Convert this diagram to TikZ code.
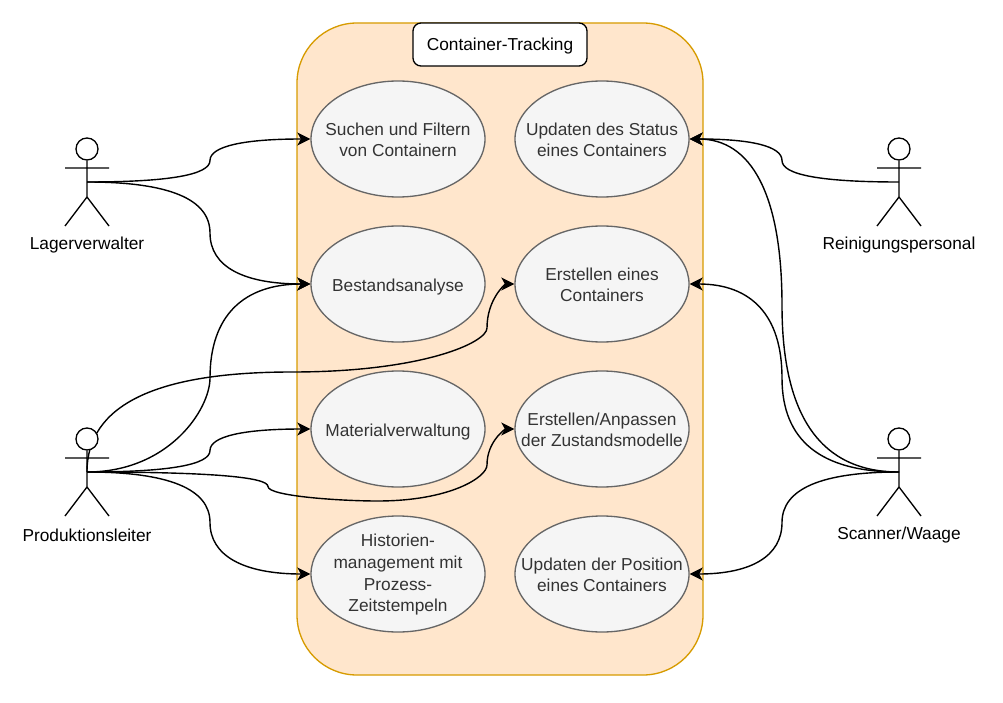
\documentclass[tikz,border=0pt]{standalone}
\usepackage{fontspec}
\setmainfont{Liberation Sans}
\usetikzlibrary{shapes.geometric,arrows.meta}
\definecolor{boxfill}{HTML}{FFE6CC}
\definecolor{boxline}{HTML}{D79B00}
\definecolor{ucfill}{HTML}{F5F5F5}
\definecolor{ucline}{HTML}{666666}
\definecolor{uctextcol}{HTML}{333333}
\tikzset{
  container/.style={draw=boxline,fill=boxfill,line width=1.33pt,rounded corners=60pt,inner sep=0pt},
  titlebox/.style={draw=black,fill=white,line width=1.33pt,rounded corners=8pt,minimum width=174pt,minimum height=43pt,inner sep=0pt,text height=13pt,text depth=0pt,font=\fontsize{17.3}{21.7}\selectfont},
  usecase/.style={ellipse,draw=ucline,fill=ucfill,line width=1.33pt,minimum width=174pt,minimum height=116pt,inner sep=0pt},
  uctext/.style={align=center,inner sep=0pt,text=uctextcol,font=\fontsize{17.3}{21.7}\selectfont},
  oneline/.style={inner sep=0pt,text=uctextcol,text height=13pt,text depth=0pt,font=\fontsize{17.3}{21.7}\selectfont},
  actorlabel/.style={inner sep=0pt,text=black,font=\fontsize{17.3}{21.7}\selectfont},
  head/.style={circle,draw=black,fill=white,line width=1.33pt,minimum size=22pt,inner sep=0pt},
  limb/.style={draw=black,line width=1.33pt},
  link/.style={draw=black,line width=1.4pt,-{Stealth[length=13pt,width=13pt,inset=3.5pt]}}
}
\newcommand{\usecasenode}[4]{%
  \node[usecase] (#1) at (#2,#3) {};
  \node[uctext] (#1t) at (#2,#3+0.8) {#4};
}
\newcommand{\singlecasenode}[4]{%
  \node[usecase] (#1) at (#2,#3) {};
  \node[oneline] (#1t) at (#2,#3+0.8) {#4};
}
\newcommand{\actorfigure}[5]{% name, x, y of attachment, label, label y
  \coordinate (#1) at (#2,#3);
  \node[head] (#1h) at (#2,#3-33) {};
  \coordinate (#1hip) at (#2,#3+15);
  \coordinate (#1la) at (#2-22,#3-14);
  \coordinate (#1ra) at (#2+22,#3-14);
  \coordinate (#1lf) at (#2-22,#3+44);
  \coordinate (#1rf) at (#2+22,#3+44);
  \draw[limb] (#1h.south) -- (#1hip) (#1la) -- (#1ra) (#1lf) -- (#1hip) -- (#1rf);
  \node[actorlabel] (#1l) at (#2,#5) {#4};
}
\begin{document}
\begin{tikzpicture}[x=1pt,y=-1pt]
\useasboundingbox (0,0) rectangle (1003,703);
\path[container] (297,23) rectangle (703,675);
\node[titlebox] (title) at (500,44.5) {Container-Tracking};
\usecasenode{suchen}{398}{139}{Suchen und Filtern\\von Containern}
\usecasenode{status}{602}{139}{Updaten des Status\\eines Containers}
\singlecasenode{bestand}{398}{284}{Bestandsanalyse}
\usecasenode{erstellen}{602}{284}{Erstellen eines\\Containers}
\singlecasenode{material}{398}{429}{Materialverwaltung}
\usecasenode{anpassen}{602}{429}{Erstellen/Anpassen\\der Zustandsmodelle}
\usecasenode{historien}{398}{574}{Historien-\\management mit\\Prozess-\\Zeitstempeln}
\usecasenode{position}{602}{574}{Updaten der Position\\eines Containers}
\coordinate (lv) at (87,182);
\coordinate (pl) at (87,472);
\coordinate (rp) at (899,182);
\coordinate (sw) at (899,472);
% left side links
\draw[link] (lv) .. controls (169,182) and (210,174.8) .. (210,160.5) .. controls (210,146.2) and (244,139) .. (suchen.west);
\draw[link] (lv) .. controls (169,182) and (210,199) .. (210,233) .. controls (210,267) and (244,284) .. (bestand.west);
\draw[link] (pl) .. controls (169,472) and (210,409.3) .. (210,378) .. controls (210,315.3) and (244,284) .. (bestand.west);
\draw[link] (pl) .. controls (169,472) and (210,464.8) .. (210,450.5) .. controls (210,436.2) and (244,429) .. (material.west);
\draw[link] (pl) .. controls (169,472) and (210,489) .. (210,522.5) .. controls (210,556) and (244,574) .. (historien.west);
\draw[link] (pl) .. controls (207.7,472) and (268,476.8) .. (268,486.5) .. controls (268,496.2) and (341,501) .. (377.5,501) .. controls (450.5,501) and (487,477) .. (487,465) .. controls (487,441) and (505.7,429) .. (anpassen.west);
\draw[link] (pl) .. controls (87,405.3) and (155.3,372) .. (292,372) .. controls (422,372) and (487,342.7) .. (487,328) .. controls (487,298.7) and (505.7,284) .. (erstellen.west);
% right side links
\draw[link] (rp) .. controls (821,182) and (782,174.8) .. (782,160.5) .. controls (782,146.2) and (751.3,139) .. (status.east);
\draw[link] (sw) .. controls (821,472) and (782,416.5) .. (782,305.5) .. controls (782,194.5) and (751.3,139) .. (status.east);
\draw[link] (sw) .. controls (821,472) and (782,440.7) .. (782,378) .. controls (782,315.3) and (751.3,284) .. (erstellen.east);
\draw[link] (sw) .. controls (821,472) and (782,489) .. (782,522.5) .. controls (782,556) and (751.3,574) .. (position.east);
% actors
\actorfigure{lva}{87}{182}{Lagerverwalter}{245.5}
\actorfigure{pla}{87}{472}{Produktionsleiter}{535.5}
\actorfigure{rpa}{899}{182}{Reinigungspersonal}{245.5}
\actorfigure{swa}{899}{472}{Scanner/Waage}{535.5}
\end{tikzpicture}
\end{document}
